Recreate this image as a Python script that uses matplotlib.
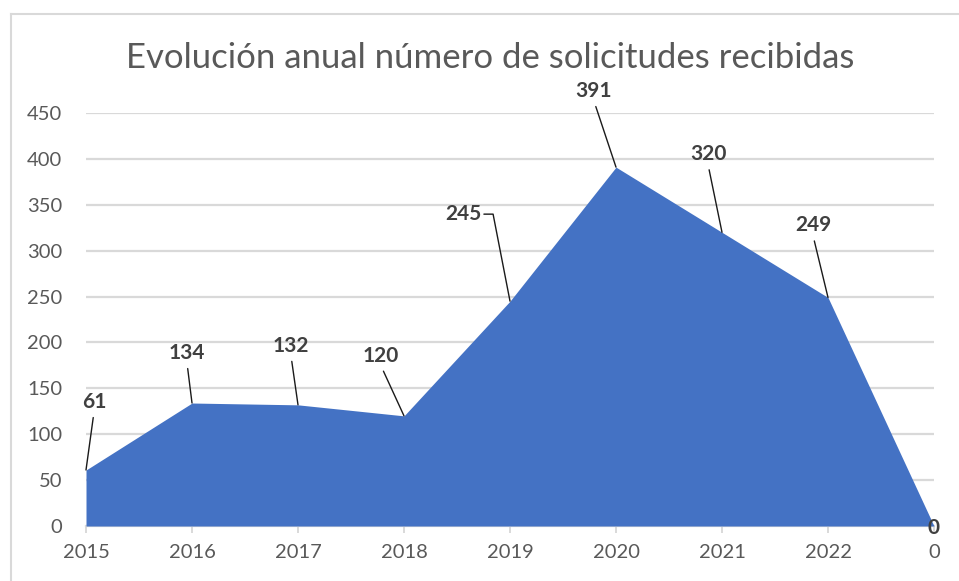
import numpy as np
import matplotlib.pyplot as plt
from matplotlib.lines import Line2D

# Categories and values
categories = ['2015', '2016', '2017', '2018', '2019', '2020', '2021', '2022', '0']
solicitudes = [61, 134, 132, 120, 245, 391, 320, 249, 0]

# label offsets from each point, in pixels (dx, dy)
label_offsets = [(8, 68), (-5, 50), (-7, 59), (-23, 60), (-47, 87), (-22, 76), (-14, 78), (-15, 72), (0, -2)]

W, H = 959, 581
fig = plt.figure(figsize=(W / 100, H / 100), dpi=100, facecolor='white')
ax = fig.add_axes([86 / W, 55 / H, (934 - 86) / W, (526 - 113) / H])

x = np.arange(len(categories))
ax.fill_between(x, solicitudes, 0, color='#4472C4', lw=0, zorder=2)

ax.set_xlim(0, len(categories) - 1)
ax.set_ylim(0, 450)
ax.set_yticks(np.arange(0, 451, 50))
ax.set_xticks(x)
ax.set_xticklabels(categories)
ax.grid(axis='y', color='#D9D9D9', lw=1.6, zorder=0)
ax.set_axisbelow(True)
for s in ('top', 'right', 'left'):
    ax.spines[s].set_visible(False)
ax.spines['bottom'].set_color('#D9D9D9')
ax.spines['bottom'].set_linewidth(1.6)
ax.spines['bottom'].set_zorder(1)
ax.tick_params(axis='y', length=0, pad=17, labelsize=14.5, labelcolor='#595959')
ax.tick_params(axis='x', length=5, width=1.4, color='#D9D9D9', pad=8,
               labelsize=14.5, labelcolor='#595959')
for lbl in ax.get_xticklabels() + ax.get_yticklabels():
    lbl.set_fontfamily('Lato')

# data labels with leader lines
for i, v in enumerate(solicitudes):
    dx, dy = label_offsets[i]
    if i == len(solicitudes) - 1:
        ax.annotate(str(v), (x[i], v), xytext=(dx, dy), textcoords='offset pixels',
                    ha='center', va='center', fontsize=15, fontweight='bold',
                    family='Lato', color='#404040', zorder=5, annotation_clip=False)
        continue
    if i == 4:
        arrow = dict(arrowstyle='-', color='#1a1a1a', lw=1.0, shrinkA=0, shrinkB=0,
                     relpos=(1, 0.5), connectionstyle='angle,angleA=0,angleB=101,rad=0')
    else:
        arrow = dict(arrowstyle='-', color='#1a1a1a', lw=1.0, shrinkA=2, shrinkB=0,
                     relpos=(0.5, 0))
    ax.annotate(str(v), (x[i], v), xytext=(dx, dy), textcoords='offset pixels',
                ha='center', va='center', fontsize=15, fontweight='bold',
                family='Lato', color='#404040', arrowprops=arrow, zorder=5)

fig.text(490 / W, 1 - 58 / H, 'Evolución anual número de solicitudes recibidas',
         ha='center', va='center', fontsize=25, color='#595959', family='Lato')

# chart area border
fig.add_artist(Line2D([10.5 / W, 10.5 / W], [0, 1 - 14 / H], transform=fig.transFigure,
                      color='#D9D9D9', lw=1.5))
fig.add_artist(Line2D([10.5 / W, 1], [1 - 14 / H, 1 - 14 / H], transform=fig.transFigure,
                      color='#D9D9D9', lw=1.5))

fig.savefig('out.png', dpi=100, facecolor='white')
